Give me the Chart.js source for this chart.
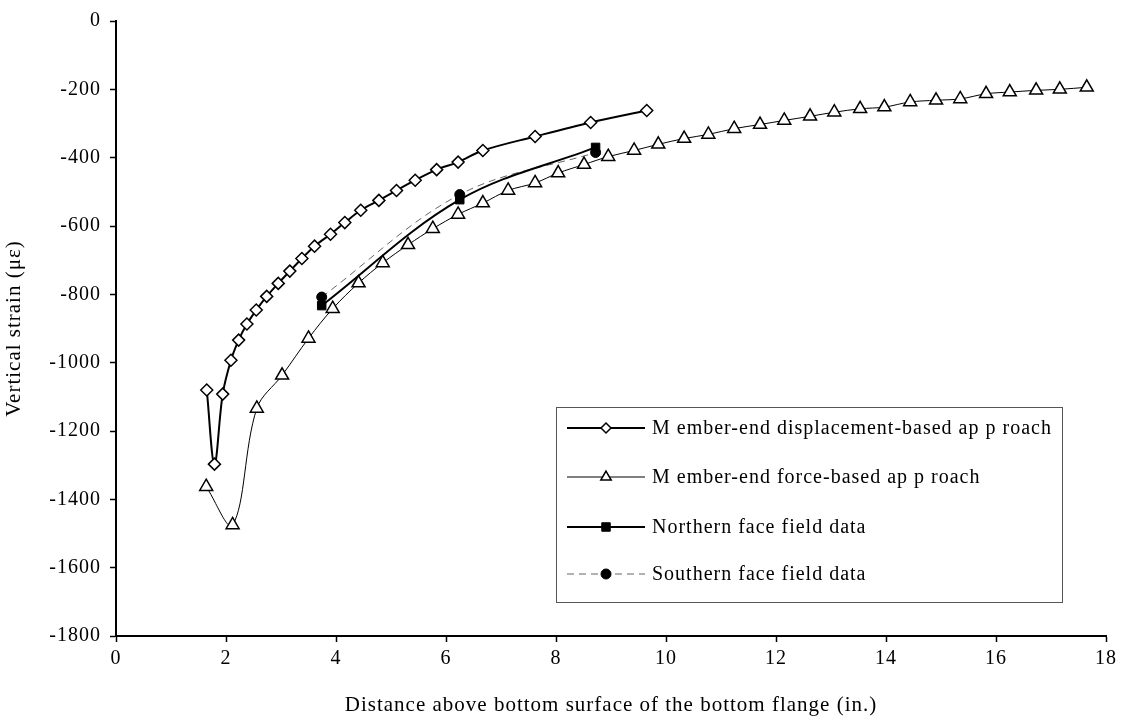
<!DOCTYPE html>
<html>
<head>
<meta charset="utf-8">
<script src="https://cdn.jsdelivr.net/npm/chart.js@4.4.1/dist/chart.umd.min.js"></script>
<style>
  html, body { margin: 0; padding: 0; background: #fff; }
  #wrap { width: 1121px; height: 723px; }
</style>
</head>
<body>
<div id="wrap"><canvas id="strain"></canvas></div>
<script>
// member-end displacement-based approach
const dispX = [1.65, 1.79, 1.94, 2.09, 2.23, 2.38, 2.55, 2.74, 2.95, 3.16, 3.38, 3.61, 3.90, 4.16, 4.45, 4.78, 5.10, 5.44, 5.83, 6.22, 6.67, 7.62, 8.63, 9.65];
const dispY = [-1080, -1297, -1092, -993, -934, -887, -846, -806, -768, -732, -695, -659, -624, -590, -554, -525, -496, -466, -435, -413, -379, -338, -297, -262];

// member-end force-based approach
const forceX = [1.64, 2.12, 2.56, 3.02, 3.50, 3.94, 4.41, 4.85, 5.31, 5.76, 6.22, 6.67, 7.13, 7.62, 8.04, 8.51, 8.95, 9.42, 9.86, 10.33, 10.77, 11.24, 11.71, 12.15, 12.62, 13.06, 13.53, 13.97, 14.44, 14.91, 15.35, 15.82, 16.25, 16.73, 17.16, 17.65];
const forceY = [-1363, -1475, -1134, -1037, -929, -842, -767, -708, -655, -608, -566, -533, -496, -474, -445, -420, -397, -379, -361, -344, -332, -315, -303, -291, -279, -267, -257, -252, -237, -232, -228, -213, -208, -203, -200, -194];

// field data
const northX = [3.74, 6.25, 8.72];
const northY = [-833, -523, -370];
const southX = [3.74, 6.25, 8.72];
const southY = [-808, -508, -385];

const seriesNames = [
    'M ember-end displacement-based ap p roach',
    'M ember-end force-based ap p roach',
    'Northern face field data',
    'Southern face field data'
];

const xMin = 0, xMax = 18, xStep = 2;
const yMin = -1800, yMax = 0, yStep = 200;

const pts = (xs, ys) => xs.map((x, i) => ({ x: x, y: ys[i] }));
const serif = 'Liberation Serif, Times New Roman, serif';

// excel spreads its text out a little
const spacing = {
    id: 'spacing',
    beforeDraw(chart) { chart.ctx.letterSpacing = '1px'; }
};

// legend box drawn inside the plot, like the original
const boxLegend = {
    id: 'boxLegend',
    afterDraw(chart) {
        const c = chart.ctx;
        const left = 556, top = 407, right = 1062, bottom = 602;
        c.save();
        c.fillStyle = '#fff';
        c.fillRect(left, top, right - left, bottom - top);
        c.strokeStyle = '#555';
        c.lineWidth = 1;
        c.strokeRect(left + 0.5, top + 0.5, right - left, bottom - top);
        const rows = [428, 477, 527, 574];
        chart.data.datasets.forEach((ds, i) => {
            const y = rows[i];
            c.beginPath();
            c.strokeStyle = ds.borderColor;
            c.lineWidth = ds.borderWidth;
            c.setLineDash(ds.borderDash || []);
            c.moveTo(567, y);
            c.lineTo(645, y);
            c.stroke();
            c.setLineDash([]);
            c.fillStyle = ds.pointBackgroundColor;
            c.strokeStyle = ds.pointBorderColor;
            c.lineWidth = ds.pointBorderWidth;
            Chart.helpers.drawPoint(c, {
                pointStyle: ds.pointStyle,
                radius: ds.legendRadius,
                borderWidth: ds.pointBorderWidth,
                rotation: 0
            }, 606, y);
            c.fillStyle = '#000';
            c.font = '20px ' + serif;
            c.letterSpacing = '1px';
            c.textAlign = 'left';
            c.textBaseline = 'middle';
            c.fillText(ds.label, 652, y + 1);
        });
        c.restore();
    }
};

const ctx = document.getElementById('strain').getContext('2d');

const strain = new Chart(ctx, {
    type: 'line',
    data: {
        datasets: [
            {
                label: seriesNames[0],
                data: pts(dispX, dispY),
                borderColor: '#000',
                borderWidth: 2,
                pointStyle: 'rectRot',
                pointRadius: 6,
                legendRadius: 5,
                pointBackgroundColor: '#fff',
                pointBorderColor: '#000',
                pointBorderWidth: 1.5,
                tension: 0.35
            },
            {
                label: seriesNames[1],
                data: pts(forceX, forceY),
                borderColor: '#000',
                borderWidth: 1,
                pointStyle: 'triangle',
                pointRadius: 7.5,
                legendRadius: 6,
                pointBackgroundColor: '#fff',
                pointBorderColor: '#000',
                pointBorderWidth: 1.5,
                tension: 0.35
            },
            {
                label: seriesNames[2],
                data: pts(northX, northY),
                borderColor: '#000',
                borderWidth: 2,
                pointStyle: 'rect',
                pointRadius: 6,
                legendRadius: 6,
                pointBackgroundColor: '#000',
                pointBorderColor: '#000',
                pointBorderWidth: 1,
                tension: 0.35
            },
            {
                label: seriesNames[3],
                data: pts(southX, southY),
                borderColor: '#666',
                borderWidth: 1,
                borderDash: [7, 5],
                pointStyle: 'circle',
                pointRadius: 5,
                legendRadius: 5,
                pointBackgroundColor: '#000',
                pointBorderColor: '#000',
                pointBorderWidth: 1,
                tension: 0.35
            }
        ]
    },
    options: {
        responsive: true,
        maintainAspectRatio: false,
        animation: false,
        layout: { padding: { left: 0, right: 15, top: 20, bottom: 0 } },
        plugins: {
            legend: { display: false },
            tooltip: { enabled: false }
        },
        scales: {
            x: {
                type: 'linear',
                min: xMin,
                max: xMax,
                afterFit: s => { s.height = 87; },
                ticks: {
                    stepSize: xStep,
                    color: '#000',
                    font: { family: serif, size: 20 },
                    padding: 5,
                    maxRotation: 0
                },
                grid: {
                    drawOnChartArea: false,
                    color: '#000',
                    tickLength: 6,
                    tickWidth: 1.5
                },
                border: { color: '#000', width: 2 },
                title: {
                    display: true,
                    text: 'Distance above bottom surface of the bottom flange (in.)',
                    color: '#000',
                    font: { family: serif, size: 21 },
                    padding: { top: 4, bottom: 5 }
                }
            },
            y: {
                type: 'linear',
                min: yMin,
                max: yMax,
                afterFit: s => { s.width = 116; },
                ticks: {
                    stepSize: yStep,
                    color: '#000',
                    font: { family: serif, size: 20 },
                    padding: 9,
                    callback: v => String(v)
                },
                grid: {
                    drawOnChartArea: false,
                    color: '#000',
                    tickLength: 6,
                    tickWidth: 1.5
                },
                border: { color: '#000', width: 2 },
                title: {
                    display: true,
                    text: 'Vertical strain (με)',
                    color: '#000',
                    font: { family: serif, size: 21 },
                    padding: { top: 2, bottom: 4 }
                }
            }
        }
    },
    plugins: [spacing, boxLegend]
});
</script>
</body>
</html>
